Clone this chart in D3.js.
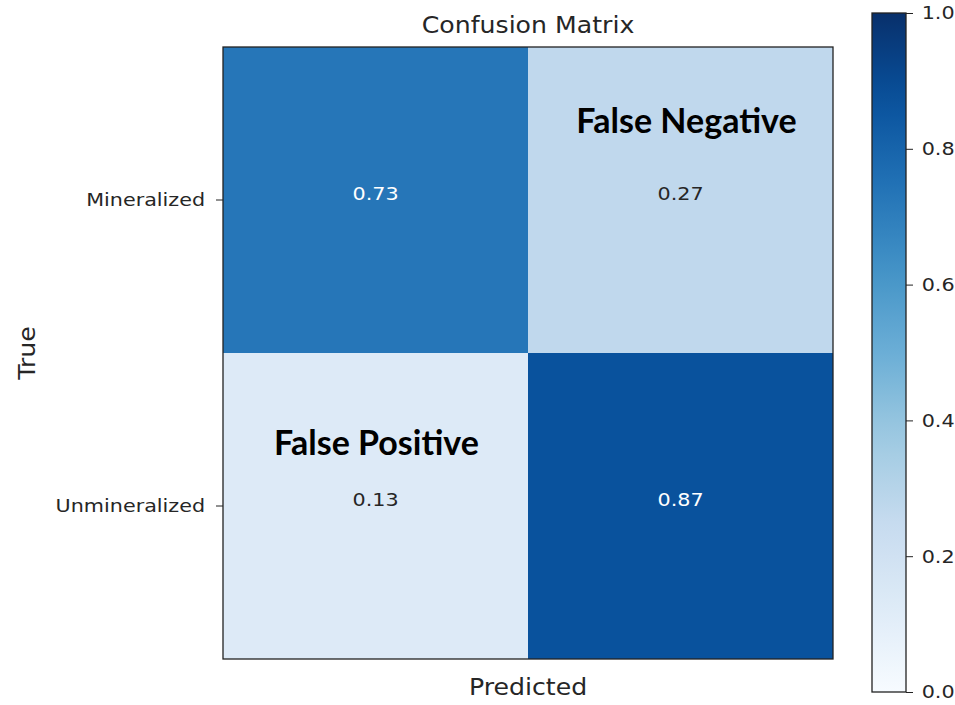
<!DOCTYPE html>
<html>
<head>
<meta charset="utf-8">
<script src="https://cdn.jsdelivr.net/npm/d3@7"></script>
<style>
  body { margin: 0; background: #fff; }
  svg { display: block; font-family: "DejaVu Sans", sans-serif; }
</style>
</head>
<body>
<svg id="chart" width="955" height="705"></svg>
<script>
// data
const trueLabels = ["Mineralized", "Unmineralized"]
const predLabels = ["Mineralized", "Unmineralized"]
const matrix = [
  [0.73, 0.27],
  [0.13, 0.87]
]
const notes = [
  { row: 0, col: 1, text: "False Negative" },
  { row: 1, col: 0, text: "False Positive" }
]
const cbarTicks = [0.0, 0.2, 0.4, 0.6, 0.8, 1.0]

const svg = d3.select("#chart")
const plot = { left: 223, right: 833, top: 47, bottom: 659 }
const cbar = { left: 872, right: 906, top: 13, bottom: 692 }
// the source image text is a bit wider than plain DejaVu
const stretch = 1.12

// matplotlib "Blues" = linear interpolation through the 9 brewer colours
const blues = d3.schemeBlues[9]
const color = d3.scaleLinear()
  .domain(d3.range(9).map(i => i / 8))
  .range(blues)
  .interpolate(d3.interpolateRgb)

const x = d3.scaleBand().domain(predLabels.map((d, i) => i)).range([plot.left, plot.right])
const y = d3.scaleBand().domain(trueLabels.map((d, i) => i)).range([plot.top, plot.bottom])

const cells = []
matrix.forEach((row, r) => row.forEach((v, c) => cells.push({ r, c, v })))

svg.append("g").selectAll("rect")
  .data(cells)
  .enter().append("rect")
  .attr("x", d => x(d.c))
  .attr("y", d => y(d.r))
  .attr("width", x.bandwidth())
  .attr("height", y.bandwidth())
  .attr("fill", d => color(d.v))

// helper: place a horizontally stretched text
function label(g, px, py, txt, size, rot) {
  return g.append("text")
    .attr("transform", "translate(" + px + "," + py + ")" + (rot ? " rotate(" + rot + ")" : "") + " scale(" + stretch + ",1)")
    .attr("text-anchor", "middle")
    .attr("font-size", size)
    .attr("fill", "#262626")
    .text(txt)
}

// cell values
const valG = svg.append("g")
cells.forEach(d => {
  label(valG, x(d.c) + x.bandwidth() / 2, y(d.r) + y.bandwidth() / 2 - 6, d.v.toFixed(2), 18.5)
    .attr("dominant-baseline", "central")
    .attr("fill", d.v > 0.5 ? "#ffffff" : "#262626")
})

// annotations (pasted-in labels)
svg.append("g").selectAll("text")
  .data(notes)
  .enter().append("text")
  .attr("x", d => x(d.col) + x.bandwidth() / 2 + (d.col === 1 ? 6 : 1))
  .attr("y", d => y(d.row) + y.bandwidth() / 2 - (d.row === 0 ? 67 : 51))
  .attr("text-anchor", "middle")
  .attr("font-family", "Lato, 'Open Sans', sans-serif")
  .attr("font-weight", 700)
  .attr("font-size", 34)
  .attr("fill", "#000")
  .text(d => d.text)

// frame
svg.append("rect")
  .attr("x", plot.left).attr("y", plot.top)
  .attr("width", plot.right - plot.left).attr("height", plot.bottom - plot.top)
  .attr("fill", "none").attr("stroke", "#222").attr("stroke-width", 1.3)

// y axis (True)
const yAxis = svg.append("g")
  .attr("transform", "translate(" + plot.left + ",0)")
  .call(d3.axisLeft(y).tickSize(7).tickPadding(9).tickFormat(i => trueLabels[i]))
yAxis.select(".domain").remove()
yAxis.selectAll("text").attr("font-size", 18.5).attr("fill", "#262626")
  .attr("font-family", "DejaVu Sans").attr("transform", "scale(" + stretch + ",1)")
yAxis.selectAll("line").attr("stroke", "#222")

// titles
label(svg, (plot.left + plot.right) / 2, 33, "Confusion Matrix", 22.5)
label(svg, (plot.left + plot.right) / 2, 695, "Predicted", 22.5)
label(svg, 35, (plot.top + plot.bottom) / 2, "True", 22.5, -90)

// colorbar
const cy = d3.scaleLinear().domain([0, 1]).range([cbar.bottom, cbar.top])
const defs = svg.append("defs")
defs.append("linearGradient")
  .attr("id", "cbar-gradient")
  .attr("x1", "0%").attr("y1", "100%")
  .attr("x2", "0%").attr("y2", "0%")
  .selectAll("stop")
    .data(d3.range(0, 1.0001, 0.05))
  .enter().append("stop")
    .attr("offset", d => (d * 100) + "%")
    .attr("stop-color", d => color(d))

svg.append("rect")
  .attr("x", cbar.left).attr("y", cbar.top)
  .attr("width", cbar.right - cbar.left).attr("height", cbar.bottom - cbar.top)
  .attr("fill", "url(#cbar-gradient)")
  .attr("stroke", "#222").attr("stroke-width", 1.3)

const cAxis = svg.append("g")
  .attr("transform", "translate(" + cbar.right + ",0)")
  .call(d3.axisRight(cy).tickValues(cbarTicks).tickSize(7).tickPadding(7).tickFormat(d3.format(".1f")))
cAxis.select(".domain").remove()
cAxis.selectAll("text").attr("font-size", 18.5).attr("fill", "#262626")
  .attr("font-family", "DejaVu Sans").attr("transform", "scale(" + stretch + ",1)")
cAxis.selectAll("line").attr("stroke", "#222")
</script>
</body>
</html>
